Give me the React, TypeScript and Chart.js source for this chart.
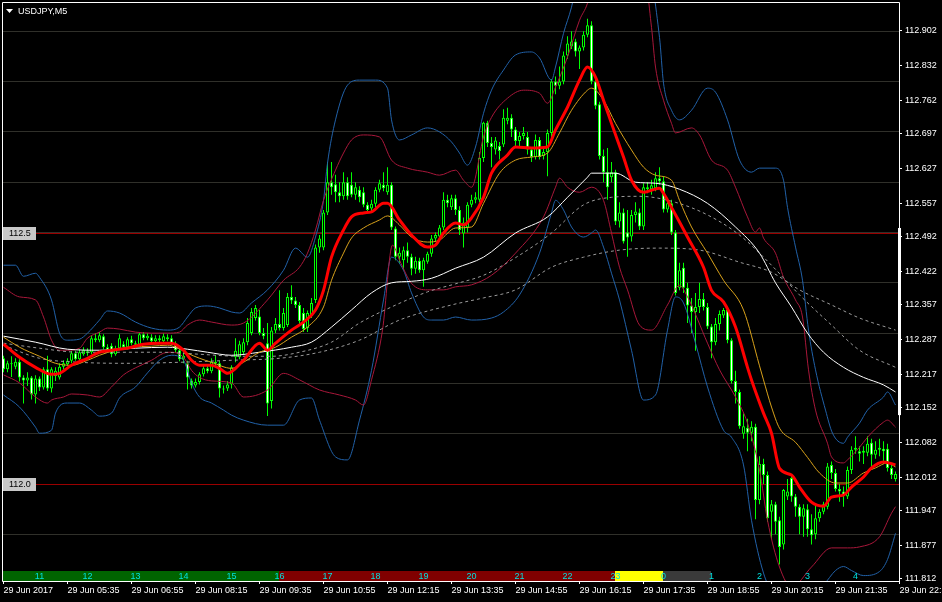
import React, { useEffect, useRef } from "react";
import { Chart, registerables } from "chart.js";

Chart.register(...registerables);

const FONT = "'Liberation Sans', Arial, sans-serif";

// ---- candles (5-minute bars, index 0 = 04:15) ----
const opens = [
  112.250,112.228,112.240,112.233,112.243,112.212,112.206,112.212,112.178,112.210,
  112.192,112.228,112.190,112.215,112.212,112.233,112.238,112.245,112.260,112.248,
  112.258,112.264,112.262,112.290,112.286,112.294,112.272,112.275,112.258,112.270,
  112.278,112.272,112.288,112.280,112.277,112.298,112.290,112.292,112.284,112.290,
  112.284,112.292,112.290,112.280,112.266,112.248,112.240,112.206,112.196,112.203,
  112.218,112.230,112.224,112.243,112.240,112.190,112.190,112.198,112.252,112.252,
  112.262,112.282,112.300,112.330,112.333,112.300,112.280,112.165,112.305,112.318,
  112.310,112.316,112.372,112.365,112.356,112.340,112.310,112.335,112.366,112.470,
  112.470,112.540,112.600,112.596,112.580,112.572,112.600,112.595,112.575,112.585,
  112.580,112.555,112.548,112.557,112.585,112.595,112.580,112.595,112.508,112.452,
  112.445,112.465,112.452,112.428,112.444,112.425,112.442,112.458,112.488,112.492,
  112.510,112.565,112.550,112.568,112.545,112.498,112.510,112.555,112.565,112.565,
  112.648,112.718,112.678,112.665,112.672,112.675,112.722,112.728,112.705,112.682,
  112.692,112.690,112.665,112.650,112.684,112.652,112.660,112.698,112.800,112.792,
  112.800,112.852,112.870,112.880,112.860,112.868,112.893,112.912,112.800,112.755,
  112.652,112.620,112.610,112.620,112.522,112.540,112.500,112.492,112.535,112.540,
  112.512,112.590,112.586,112.588,112.608,112.602,112.546,112.558,112.500,112.390,
  112.430,112.390,112.355,112.342,112.352,112.368,112.352,112.313,112.282,112.318,
  112.335,112.346,112.286,112.205,112.183,112.100,112.112,112.102,112.114,111.968,
  112.040,112.018,111.945,111.960,111.928,111.880,111.975,112.012,111.975,111.955,
  111.935,111.950,111.910,111.900,111.932,111.945,111.955,112.038,112.022,111.990,
  111.985,111.975,112.028,112.068,112.065,112.062,112.062,112.082,112.058,112.068,
  112.070,112.070,112.032,112.010,
];
const highs = [
  112.255,112.245,112.254,112.250,112.248,112.216,112.222,112.215,112.216,112.214,
  112.232,112.255,112.232,112.232,112.240,112.246,112.250,112.265,112.265,112.268,
  112.272,112.270,112.296,112.300,112.302,112.298,112.278,112.280,112.275,112.298,
  112.284,112.292,112.295,112.285,112.300,112.302,112.300,112.298,112.296,112.296,
  112.300,112.298,112.296,112.284,112.270,112.262,112.245,112.210,112.210,112.222,
  112.235,112.236,112.250,112.256,112.245,112.196,112.205,112.236,112.290,112.285,
  112.290,112.330,112.350,112.356,112.346,112.310,112.320,112.312,112.330,112.385,
  112.350,112.380,112.395,112.372,112.362,112.350,112.345,112.370,112.476,112.495,
  112.545,112.640,112.640,112.615,112.600,112.620,112.610,112.620,112.600,112.592,
  112.590,112.560,112.565,112.590,112.605,112.620,112.630,112.600,112.512,112.470,
  112.472,112.480,112.458,112.452,112.450,112.450,112.462,112.495,112.500,112.515,
  112.580,112.575,112.575,112.575,112.552,112.530,112.560,112.575,112.580,112.660,
  112.720,112.722,112.690,112.690,112.680,112.745,112.748,112.735,112.710,112.700,
  112.710,112.700,112.670,112.695,112.690,112.670,112.705,112.805,112.810,112.830,
  112.860,112.890,112.900,112.885,112.872,112.900,112.925,112.920,112.805,112.760,
  112.665,112.668,112.640,112.625,112.560,112.548,112.545,112.545,112.560,112.548,
  112.598,112.600,112.605,112.620,112.630,112.612,112.566,112.565,112.505,112.440,
  112.440,112.400,112.370,112.380,112.400,112.380,112.360,112.318,112.330,112.345,
  112.350,112.352,112.290,112.225,112.188,112.140,112.130,112.125,112.120,112.055,
  112.050,112.025,111.968,111.965,111.935,111.990,112.010,112.020,111.980,111.960,
  111.960,111.960,111.940,111.960,111.950,111.965,112.042,112.045,112.030,112.000,
  111.995,112.035,112.075,112.095,112.075,112.075,112.095,112.090,112.085,112.090,
  112.085,112.080,112.040,112.025,
];
const lows = [
  112.222,112.222,112.213,112.228,112.204,112.160,112.195,112.168,112.160,112.185,
  112.188,112.185,112.182,112.205,112.208,112.228,112.235,112.240,112.245,112.245,
  112.255,112.255,112.258,112.282,112.282,112.268,112.262,112.252,112.255,112.266,
  112.268,112.268,112.276,112.272,112.274,112.286,112.286,112.280,112.280,112.282,
  112.280,112.284,112.276,112.262,112.244,112.240,112.188,112.190,112.192,112.198,
  112.214,112.220,112.220,112.236,112.172,112.180,112.185,112.190,112.242,112.248,
  112.258,112.276,112.296,112.325,112.296,112.288,112.135,112.150,112.300,112.305,
  112.305,112.312,112.358,112.350,112.318,112.302,112.302,112.330,112.360,112.460,
  112.465,112.535,112.575,112.560,112.560,112.565,112.565,112.570,112.565,112.560,
  112.550,112.540,112.540,112.550,112.580,112.582,112.575,112.505,112.445,112.440,
  112.425,112.440,112.415,112.418,112.420,112.392,112.438,112.452,112.482,112.487,
  112.505,112.550,112.545,112.535,112.495,112.470,112.500,112.550,112.558,112.560,
  112.640,112.670,112.630,112.655,112.645,112.670,112.715,112.690,112.670,112.670,
  112.685,112.655,112.640,112.645,112.645,112.645,112.612,112.690,112.775,112.785,
  112.795,112.845,112.865,112.850,112.825,112.862,112.888,112.795,112.745,112.645,
  112.600,112.565,112.600,112.515,112.510,112.478,112.452,112.482,112.520,112.505,
  112.505,112.578,112.575,112.582,112.595,112.540,112.540,112.495,112.375,112.385,
  112.380,112.320,112.300,112.265,112.340,112.345,112.308,112.250,112.276,112.305,
  112.330,112.280,112.200,112.160,112.110,112.090,112.065,112.085,111.930,111.960,
  112.000,111.925,111.890,111.900,111.840,111.870,111.968,111.965,111.935,111.900,
  111.895,111.895,111.880,111.890,111.925,111.940,111.950,112.010,111.985,111.965,
  111.955,111.970,112.020,112.060,112.045,112.040,112.055,112.035,112.050,112.055,
  112.040,112.025,112.010,112.005,
];
const closes = [
  112.228,112.240,112.238,112.243,112.212,112.206,112.212,112.178,112.210,112.192,
  112.228,112.190,112.228,112.225,112.233,112.240,112.245,112.260,112.248,112.262,
  112.266,112.260,112.290,112.286,112.296,112.272,112.266,112.258,112.270,112.290,
  112.272,112.288,112.280,112.277,112.298,112.290,112.295,112.284,112.290,112.286,
  112.294,112.288,112.280,112.266,112.248,112.255,112.212,112.196,112.203,112.218,
  112.230,112.224,112.243,112.240,112.190,112.188,112.198,112.232,112.265,112.278,
  112.282,112.320,112.342,112.350,112.300,112.294,112.160,112.305,112.318,112.310,
  112.340,112.372,112.365,112.356,112.324,112.308,112.340,112.360,112.470,112.488,
  112.540,112.600,112.590,112.580,112.572,112.600,112.572,112.575,112.590,112.570,
  112.555,112.545,112.557,112.585,112.598,112.588,112.595,112.510,112.452,112.460,
  112.465,112.452,112.428,112.444,112.425,112.445,112.458,112.488,112.495,112.510,
  112.565,112.558,112.568,112.545,112.505,112.520,112.555,112.565,112.570,112.648,
  112.718,112.678,112.670,112.683,112.662,112.728,112.728,112.705,112.682,112.692,
  112.698,112.665,112.650,112.684,112.650,112.660,112.698,112.800,112.792,112.800,
  112.852,112.876,112.880,112.860,112.868,112.893,112.912,112.800,112.752,112.652,
  112.620,112.590,112.620,112.522,112.540,112.482,112.490,112.535,112.542,112.512,
  112.590,112.586,112.594,112.608,112.602,112.546,112.558,112.500,112.380,112.425,
  112.390,112.355,112.342,112.352,112.368,112.352,112.313,112.282,112.318,112.338,
  112.346,112.286,112.205,112.183,112.115,112.115,112.102,112.114,111.968,112.040,
  112.018,111.932,111.960,111.925,111.875,111.988,111.985,111.975,111.955,111.935,
  111.952,111.910,111.898,111.932,111.945,111.960,112.035,112.022,111.990,111.985,
  111.978,112.028,112.068,112.072,112.060,112.066,112.080,112.058,112.068,112.072,
  112.065,112.032,112.018,112.020,
];

// ---- indicator lines: [bar index, price] ----
const emaLine = [
  [0,112.278],[4,112.252],[8,112.232],[12,112.218],[14,112.220],[17,112.236],[21,112.250],[24,112.262],[27,112.266],[32,112.272],
  [35,112.278],[39,112.280],[42,112.280],[45,112.266],[47,112.246],[49,112.236],[52,112.236],[54,112.230],[56,112.220],[60,112.246],
  [64,112.280],[66,112.266],[68,112.280],[72,112.306],[75,112.322],[78,112.346],[80,112.385],[82,112.451],[85,112.505],[87,112.531],
  [90,112.539],[92,112.541],[95,112.558],[96,112.558],[99,112.525],[102,112.495],[106,112.471],[108,112.475],[110,112.499],[113,112.519],
  [115,112.515],[117,112.529],[120,112.570],[122,112.618],[126,112.654],[128,112.670],[132,112.668],[136,112.670],[138,112.704],[141,112.749],
  [144,112.803],[146,112.829],[148,112.809],[150,112.763],[152,112.717],[155,112.650],[157,112.604],[160,112.580],[162,112.584],[164,112.588],
  [165,112.578],[167,112.550],[169,112.521],[171,112.491],[175,112.431],[177,112.385],[180,112.362],[183,112.312],[186,112.232],[187,112.207],
  [190,112.141],[192,112.101],[194,112.031],[197,112.018],[199,111.994],[202,111.964],[205,111.956],[207,111.974],[210,111.978],[212,111.994],
  [215,112.014],[217,112.032],[220,112.044],[223,112.038],
];
const smaLine = [
  [0,112.292],[4,112.272],[9,112.254],[13,112.240],[17,112.236],[21,112.246],[24,112.256],[28,112.266],[32,112.272],[37,112.274],
  [41,112.276],[43,112.272],[46,112.260],[49,112.250],[52,112.242],[57,112.230],[60,112.242],[64,112.262],[68,112.272],[72,112.292],
  [76,112.312],[80,112.352],[82,112.405],[85,112.459],[87,112.489],[90,112.509],[94,112.525],[96,112.533],[99,112.515],[102,112.491],
  [106,112.481],[109,112.485],[113,112.509],[117,112.511],[120,112.558],[124,112.618],[128,112.644],[132,112.650],[136,112.658],[139,112.698],
  [142,112.743],[146,112.783],[147,112.787],[150,112.763],[153,112.717],[157,112.664],[160,112.630],[163,112.614],[167,112.604],[169,112.564],
  [172,112.511],[176,112.459],[180,112.405],[185,112.346],[189,112.235],[190,112.207],[192,112.153],[194,112.111],[198,112.083],[201,112.053],
  [204,112.022],[208,112.002],[211,112.002],[215,112.022],[218,112.032],[221,112.042],[223,112.034],
];
const whiteLine = [
  [0,112.294],[8,112.282],[16,112.268],[24,112.266],[33,112.270],[41,112.272],[46,112.268],[51,112.262],[57,112.256],[64,112.262],
  [72,112.272],[77,112.282],[82,112.312],[87,112.346],[92,112.380],[97,112.400],[102,112.403],[107,112.409],[113,112.429],[120,112.451],
  [128,112.499],[136,112.531],[141,112.570],[146,112.610],[147,112.618],[153,112.618],[158,112.600],[163,112.598],[169,112.586],[176,112.558],
  [183,112.511],[189,112.459],[193,112.400],[197,112.352],[201,112.300],[205,112.262],[210,112.232],[215,112.212],[220,112.197],[223,112.183],
];
const dashedFast = [
  [0,112.280],[9,112.270],[19,112.262],[29,112.262],[39,112.262],[49,112.258],[59,112.254],[67,112.254],[74,112.262],[82,112.282],
  [89,112.320],[97,112.352],[106,112.382],[113,112.398],[120,112.415],[128,112.450],[137,112.499],[145,112.555],[152,112.570],[159,112.572],
  [168,112.560],[176,112.535],[184,112.495],[192,112.435],[199,112.376],[207,112.316],[214,112.266],[223,112.232],
];
const dashedSlow = [
  [0,112.276],[9,112.250],[19,112.242],[32,112.240],[44,112.242],[57,112.246],[69,112.250],[79,112.262],[89,112.286],[99,112.326],
  [112,112.356],[120,112.370],[128,112.386],[137,112.431],[145,112.451],[154,112.465],[164,112.469],[174,112.465],[184,112.441],[192,112.421],
  [199,112.386],[207,112.356],[214,112.330],[223,112.306],
];
const blueUpper = [
  [0,112.435],[3,112.435],[5,112.413],[8,112.419],[9,112.411],[12,112.366],[14,112.300],[16,112.286],[19,112.288],[21,112.300],
  [24,112.326],[26,112.344],[29,112.340],[33,112.322],[37,112.310],[41,112.306],[44,112.312],[46,112.332],[48,112.350],[51,112.354],
  [54,112.350],[57,112.342],[59,112.340],[62,112.360],[66,112.386],[70,112.425],[73,112.469],[76,112.451],[78,112.491],[80,112.564],
  [81,112.638],[83,112.724],[86,112.793],[89,112.803],[93,112.803],[96,112.787],[97,112.724],[99,112.684],[102,112.694],[106,112.708],
  [109,112.700],[112,112.680],[114,112.658],[116,112.634],[118,112.670],[120,112.737],[122,112.783],[125,112.823],[128,112.853],[132,112.859],
  [134,112.847],[137,112.803],[138,112.829],[140,112.896],[142,112.948],[144,113.020],[161,113.020],[164,112.888],[165,112.797],[167,112.743],
  [169,112.724],[172,112.743],[176,112.787],[178,112.779],[181,112.724],[184,112.644],[187,112.620],[189,112.628],[193,112.628],[195,112.604],
  [196,112.550],[198,112.471],[199.75,112.405],[201.25,112.306],[203,112.227],[205.5,112.147],[207.25,112.101],[210,112.081],[211,112.093],[214,112.121],
  [216,112.147],[220,112.173],[221,112.183],[223,112.157],
];
const blueLower = [
  [0,112.177],[4,112.153],[8,112.113],[9,112.101],[12,112.107],[13,112.141],[16,112.161],[19,112.161],[22,112.147],[24,112.135],
  [27,112.141],[29,112.171],[33,112.193],[36,112.221],[39,112.246],[42,112.256],[45,112.246],[47,112.201],[49,112.173],[52,112.161],
  [55,112.147],[57,112.137],[60,112.127],[66,112.117],[70,112.117],[74,112.167],[77,112.171],[79,112.127],[83,112.054],[86,112.048],
  [89,112.127],[92,112.226],[95,112.366],[97,112.451],[100,112.425],[102,112.380],[105,112.332],[107,112.326],[110,112.326],[113,112.332],
  [117,112.326],[122,112.330],[125,112.342],[129,112.376],[134,112.459],[137,112.539],[138,112.564],[140,112.545],[142,112.511],[145,112.491],
  [147,112.499],[148,112.505],[150,112.471],[152,112.419],[154,112.366],[157,112.266],[160,112.167],[163,112.177],[166,112.306],[168,112.372],
  [170,112.360],[173,112.280],[176,112.193],[180,112.107],[182,112.093],[185,112.038],[187,111.928],[190,111.823],[192,111.790],[199,111.775],
  [205,111.800],[208,111.828],[210,111.836],[212,111.828],[215,111.818],[219,111.826],[221,111.850],[223,111.902],
];
const redUpper = [
  [0,112.391],[4,112.372],[8,112.366],[10,112.332],[12,112.286],[14,112.266],[16,112.266],[19,112.270],[21,112.290],[24,112.302],
  [26,112.310],[29,112.308],[33,112.302],[37,112.300],[41,112.300],[44,112.302],[46,112.316],[49,112.326],[52,112.322],[57,112.316],
  [60,112.320],[66,112.366],[70,112.405],[74,112.431],[76,112.459],[78,112.505],[80,112.564],[83,112.624],[85,112.658],[87,112.684],
  [90,112.694],[94,112.690],[97,112.644],[101,112.628],[106,112.620],[109,112.614],[113,112.624],[115,112.604],[117,112.590],[120,112.690],
  [122,112.729],[126,112.767],[130,112.783],[134,112.777],[136,112.757],[138,112.789],[141,112.849],[144,112.922],[146,112.956],[148,113.020],
  [160,113.020],[162,112.908],[163,112.829],[165,112.763],[167,112.717],[168,112.698],[172,112.708],[174,112.694],[177,112.644],[181,112.624],
  [183,112.590],[186,112.531],[188,112.501],[189,112.509],[190,112.489],[193,112.459],[195,112.411],[198,112.366],[199.75,112.332],[201.25,112.227],
  [203,112.147],[206,112.081],[207,112.054],[210,112.042],[211,112.048],[214,112.073],[216,112.093],[220,112.123],[221,112.127],[223,112.113],
];
const redLower = [
  [0,112.217],[4,112.201],[8,112.173],[11,112.161],[12,112.167],[15,112.173],[17,112.179],[21,112.177],[24,112.173],[27,112.193],
  [30,112.217],[33,112.231],[37,112.246],[40,112.260],[42,112.262],[45,112.252],[47,112.226],[49,112.212],[52,112.205],[57,112.201],
  [60,112.173],[66,112.187],[70,112.220],[74,112.207],[79,112.187],[84,112.177],[88,112.167],[90,112.157],[92,112.207],[94.75,112.306],
  [97.25,112.475],[99,112.445],[102,112.399],[106,112.386],[110,112.386],[113,112.392],[117,112.396],[122,112.415],[128,112.459],[135,112.531],
  [138,112.590],[139,112.608],[141,112.590],[144,112.580],[147,112.590],[150,112.564],[152,112.499],[154,112.431],[156,112.386],[159,112.316],
  [162,112.306],[166,112.356],[169,112.395],[171,112.372],[176,112.280],[179,112.227],[183,112.173],[186,112.121],[189,112.028],[191,111.928],
  [194,111.835],[197,111.795],[202,111.835],[207,111.873],[211,111.873],[214,111.875],[219,111.895],[222,111.942],[223,111.955],
];

// ---- axes / annotations ----
const xTickIdx = [0,16,32,48,64,80,96,112,128,144,160,176,192,208,224];
const xTickText = [
  "29 Jun 2017","29 Jun 05:35","29 Jun 06:55","29 Jun 08:15","29 Jun 09:35","29 Jun 10:55","29 Jun 12:15",
  "29 Jun 13:35","29 Jun 14:55","29 Jun 16:15","29 Jun 17:35","29 Jun 18:55","29 Jun 20:15","29 Jun 21:35","29 Jun 22:55",
];
const yTickVals = [112.902,112.832,112.762,112.697,112.627,112.557,112.492,112.422,112.357,112.287,112.217,112.152,112.082,112.012,111.947,111.877,111.812];
const gridPrices = [112.9,112.8,112.7,112.6,112.5,112.4,112.3,112.2,112.1,112.0,111.9];
const levelVals = [112.5, 112.0];
const levelText = ["112.5", "112.0"];
const sessionFrom = [-2, 69, 153, 165];
const sessionTo = [69, 153, 165, 177];
const sessionColors = ["#006400", "#800000", "#ffff00", "#3a3a3a"];
const hourIdx = [9,21,33,45,57,69,81,93,105,117,129,141,153,165,177,189,201,213];
const hourText = ["11","12","13","14","15","16","17","18","19","20","21","22","23","0","1","2","3","4"];
const scrollMark = [112.137, 112.509];
const symbolTitle = "USDJPY,M5";
const Y_MIN = 111.8072;
const Y_MAX = 112.9563;

const pts = (arr: number[][]) => arr.map(([x, y]) => ({ x, y }));

const decoPlugin: any = {
  id: "mt4deco",
  beforeDraw(chart: any) {
    const { ctx, width, height } = chart;
    ctx.save();
    ctx.fillStyle = "#000";
    ctx.fillRect(0, 0, width, height);
    ctx.restore();
  },
  beforeDatasetsDraw(chart: any) {
    const { ctx, chartArea: a, scales } = chart;
    const y = scales.y;
    ctx.save();
    ctx.strokeStyle = "#9a0000";
    ctx.lineWidth = 1;
    levelVals.forEach((v) => {
      const py = Math.round(y.getPixelForValue(v)) + 0.5;
      ctx.beginPath();
      ctx.moveTo(a.left, py);
      ctx.lineTo(a.right, py);
      ctx.stroke();
    });
    ctx.restore();
  },
  afterDatasetsDraw(chart: any) {
    const { ctx, chartArea: a, scales } = chart;
    const x = scales.x;
    const y = scales.y;
    ctx.save();
    ctx.beginPath();
    ctx.rect(a.left, a.top, a.right - a.left, a.bottom - a.top);
    ctx.clip();
    // session strip
    const top = a.bottom - 10;
    sessionFrom.forEach((f, k) => {
      const x0 = Math.floor(x.getPixelForValue(f));
      const x1 = Math.floor(x.getPixelForValue(sessionTo[k]));
      ctx.fillStyle = sessionColors[k];
      ctx.fillRect(x0, top, x1 - x0, 10);
    });
    ctx.font = `9px ${FONT}`;
    ctx.fillStyle = "#00e0e0";
    ctx.textAlign = "center";
    ctx.textBaseline = "middle";
    hourIdx.forEach((h, k) => {
      ctx.fillText(hourText[k], x.getPixelForValue(h), top + 5.5);
    });
    // level labels
    levelVals.forEach((v, k) => {
      const py = Math.round(y.getPixelForValue(v));
      ctx.fillStyle = "#c8c8c8";
      ctx.fillRect(a.left, py - 6, 33, 13);
      ctx.fillStyle = "#000";
      ctx.textAlign = "left";
      ctx.fillText(levelText[k], a.left + 6, py + 0.5);
    });
    // title
    ctx.fillStyle = "#fff";
    ctx.beginPath();
    ctx.moveTo(a.left + 3, a.top + 6);
    ctx.lineTo(a.left + 10, a.top + 6);
    ctx.lineTo(a.left + 6.5, a.top + 10);
    ctx.closePath();
    ctx.fill();
    ctx.font = `9px ${FONT}`;
    ctx.textAlign = "left";
    ctx.textBaseline = "middle";
    ctx.fillText(symbolTitle, a.left + 15, a.top + 8.5);
    ctx.restore();

    // frame + scroll marker
    ctx.save();
    ctx.strokeStyle = "#fff";
    ctx.lineWidth = 1;
    ctx.beginPath();
    ctx.moveTo(a.left - 0.5, a.bottom + 0.5);
    ctx.lineTo(a.left - 0.5, a.top - 0.5);
    ctx.lineTo(a.right + 0.5, a.top - 0.5);
    ctx.lineTo(a.right + 0.5, a.bottom + 0.5);
    ctx.lineTo(a.left - 0.5, a.bottom + 0.5);
    ctx.stroke();
    ctx.fillStyle = "#fff";
    const s0 = y.getPixelForValue(scrollMark[1]);
    const s1 = y.getPixelForValue(scrollMark[0]);
    ctx.fillRect(a.right - 1, s0, 3, s1 - s0);
    ctx.restore();
  },
};

const lineDs = (label: string, arr: number[][], color: string, width: number, order: number, dash: number[] = []) => ({
  type: "line" as const,
  label,
  data: pts(arr),
  borderColor: color,
  borderWidth: width,
  borderDash: dash,
  pointRadius: 0,
  fill: false,
  cubicInterpolationMode: "monotone" as const,
  order,
  clip: 0,
  yAxisID: "y",
  xAxisID: "x",
});

export default function App() {
  const ref = useRef<HTMLCanvasElement>(null);
  useEffect(() => {
    document.body.style.margin = "0";
    document.body.style.background = "#000";
    const canvas = ref.current;
    if (!canvas) return;
    const n = Math.min(opens.length, highs.length, lows.length, closes.length);
    const bodies: any[] = [];
    const wicks: any[] = [];
    const bodyFill: string[] = [];
    for (let i = 0; i < n; i++) {
      bodies.push({ x: i, y: [opens[i], closes[i]] });
      wicks.push({ x: i, y: [lows[i], highs[i]] });
      bodyFill.push(closes[i] >= opens[i] ? "#000000" : "#ffffff");
    }
    const font = { family: FONT, size: 9 };
    const chart = new Chart(canvas, {
      type: "bar",
      data: {
        datasets: [
          lineDs("EMA", emaLine, "#ff0000", 3, 0),
          lineDs("SMA", smaLine, "#d9a21b", 1, 1),
          lineDs("MA white", whiteLine, "#ffffff", 1, 2),
          lineDs("MA dashed fast", dashedFast, "#9a9a9a", 1, 3, [3, 3]),
          lineDs("MA dashed slow", dashedSlow, "#9a9a9a", 1, 4, [3, 3]),
          lineDs("BB red upper", redUpper, "#a8173a", 1, 5),
          lineDs("BB red lower", redLower, "#a8173a", 1, 5),
          lineDs("BB blue upper", blueUpper, "#2161a8", 1, 6),
          lineDs("BB blue lower", blueLower, "#2161a8", 1, 6),
          {
            type: "bar",
            label: "body",
            data: bodies,
            backgroundColor: bodyFill,
            borderColor: "#00ff00",
            borderWidth: 1,
            borderSkipped: false,
            grouped: false,
            barThickness: 3,
            maxBarThickness: 3,
            inflateAmount: 0,
            order: 10,
            xAxisID: "x",
            yAxisID: "y",
          } as any,
          {
            type: "bar",
            label: "wick",
            data: wicks,
            backgroundColor: "#00ff00",
            borderWidth: 0,
            grouped: false,
            barThickness: 1,
            maxBarThickness: 1,
            inflateAmount: 0,
            order: 11,
            xAxisID: "x",
            yAxisID: "y",
          } as any,
        ] as any,
      },
      options: {
        responsive: false,
        animation: false,
        devicePixelRatio: 1,
        events: [],
        layout: { padding: { left: 3, top: 3, right: 0, bottom: 0 } },
        plugins: { legend: { display: false }, tooltip: { enabled: false } },
        scales: {
          x: {
            type: "linear",
            min: -0.125,
            max: 223.875,
            offset: false,
            afterBuildTicks: (s: any) => {
              s.ticks = xTickIdx.map((v) => ({ value: v }));
            },
            afterFit: (s: any) => {
              s.height = 21;
              s.paddingLeft = 0;
              s.paddingRight = 0;
            },
            ticks: {
              color: "#ffffff",
              font,
              align: "start",
              maxRotation: 0,
              autoSkip: false,
              padding: 1,
              callback: (_v: any, idx: number) => xTickText[idx],
            },
            grid: { display: true, drawOnChartArea: false, drawTicks: true, tickLength: 3, color: "#ffffff", offset: false },
            border: { display: false },
          },
          y: {
            type: "linear",
            position: "right",
            min: Y_MIN,
            max: Y_MAX,
            afterBuildTicks: (s: any) => {
              s.ticks = yTickVals.map((v) => ({ value: v }));
            },
            afterFit: (s: any) => {
              s.width = 43;
              s.paddingTop = 0;
              s.paddingBottom = 0;
            },
            ticks: {
              color: "#ffffff",
              font,
              padding: 3,
              autoSkip: false,
              callback: (v: any) => Number(v).toFixed(3),
            },
            grid: { display: true, drawOnChartArea: false, drawTicks: true, tickLength: 3, color: "#ffffff" },
            border: { display: false },
          },
          y2: {
            type: "linear",
            position: "left",
            min: Y_MIN,
            max: Y_MAX,
            afterBuildTicks: (s: any) => {
              s.ticks = gridPrices.map((v) => ({ value: v }));
            },
            afterFit: (s: any) => {
              s.width = 0;
              s.paddingTop = 0;
              s.paddingBottom = 0;
            },
            ticks: { display: false },
            grid: { display: true, drawOnChartArea: true, drawTicks: false, color: "#30302a", lineWidth: 1 },
            border: { display: false },
          },
        },
      } as any,
      plugins: [decoPlugin],
    });
    return () => chart.destroy();
  }, []);
  return (
    <div style={{ position: "fixed", left: 0, top: 0, width: 942, height: 602, background: "#000" }}>
      <canvas ref={ref} width={942} height={602} style={{ display: "block", width: 942, height: 602 }} />
    </div>
  );
}
